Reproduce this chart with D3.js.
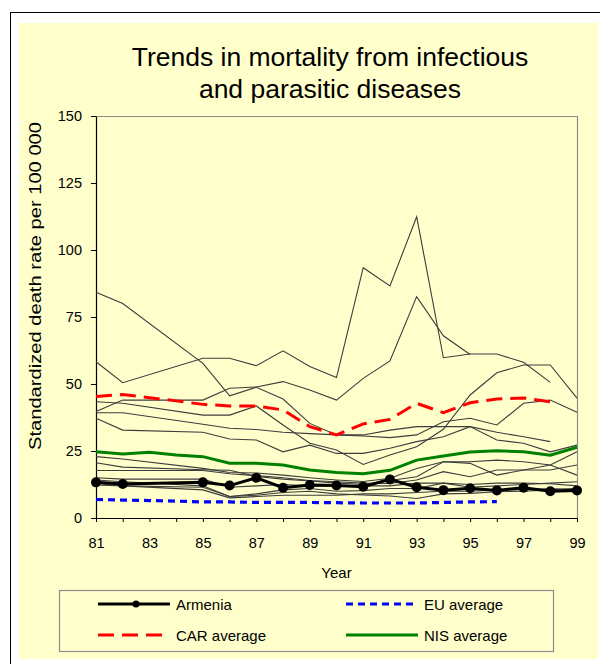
<!DOCTYPE html>
<html>
<head>
<meta charset="utf-8">
<script src="https://cdnjs.cloudflare.com/ajax/libs/d3/7.8.5/d3.min.js"></script>
<style>
  body { margin: 0; background: #fff; }
  svg { display: block; font-family: "Liberation Sans", Arial, sans-serif; }
</style>
</head>
<body>
<div id="chart"></div>
<script>
// --- Data ---
const years = [81, 82, 83, 84, 85, 86, 87, 88, 89, 90, 91, 92, 93, 94, 95, 96, 97, 98, 99];
const yTicks = [0, 25, 50, 75, 100, 125, 150];
const xLabels = [81, 83, 85, 87, 89, 91, 93, 95, 97, 99];

const armenia = [13.3, 12.7, null, null, 13.3, 12.1, 15.0, 11.3, 12.3, 12.1, 11.7, 14.4, 11.5, 10.4, 11.1, 10.3, 11.3, 10.0, 10.3];
const euAverage = [6.9, 6.7, 6.5, 6.3, 6.0, 6.0, 5.8, 5.8, 5.8, 5.7, 5.6, 5.6, 5.6, 5.8, 6.0, 6.1, null, null, null];
const carAverage = [45.3, 46.1, 44.9, 43.7, 42.4, 41.8, 41.8, 40.3, 34.1, 31.0, 35.1, 36.8, 42.8, 39.3, 43.0, 44.4, 44.8, 43.4, null];
const nisAverage = [24.7, 23.9, 24.5, 23.5, 22.9, 20.4, 20.4, 19.8, 17.9, 17.0, 16.5, 17.8, 21.6, 23.1, 24.6, 25.1, 24.7, 23.4, 26.4];

// other countries (thin grey lines)
const countryA = [84.2, 80.0, null, null, 57.7, 45.6, 48.8, 44.4, 35.3, 31.0, 30.6, 30.0, 31.0, 35.9, 37.2, 34.7, 42.8, 44.0, 39.5];
const countryB = [58.3, 50.5, null, null, 59.6, 59.6, 56.8, 62.4, 56.5, 52.4, 93.4, 86.6, 112.4, 59.8, 61.2, 61.2, 58.1, 50.6, null];
const countryC = [39.7, 44.0, null, null, 44.0, 48.4, 48.9, 50.9, 47.8, 44.0, 52.1, 58.6, 82.6, 68.0, 61.0, null, null, null, null];
const countryD = [43.4, 42.8, null, null, 38.4, 38.4, 41.8, 34.7, 27.9, 25.4, 20.0, 23.5, 26.6, 33.1, 45.9, 54.2, 57.1, 57.1, 44.7];
const countryE = [39.3, 39.3, null, null, 35.0, 33.5, 33.0, 32.0, 31.5, 31.0, 31.0, 32.8, 34.1, 34.1, 34.1, 32.0, 30.3, 28.5, null];
const countryF = [37.2, 32.8, null, null, 32.0, 29.5, 29.1, 24.7, 27.2, 24.1, 24.1, 26.0, 28.5, 30.3, 34.1, 29.1, 27.9, 24.7, 27.2];
const countryG = [22.9, 22.0, null, null, 18.5, 17.0, 16.8, 16.0, 15.0, 14.2, 13.6, 14.8, 18.5, 21.0, 21.0, 21.6, 21.0, 19.8, 16.0];
const countryH = [20.6, 19.0, null, null, 18.0, 17.8, 15.5, 14.5, 13.8, 13.0, 12.5, 14.0, 15.4, 21.0, 20.4, 16.0, 17.9, 19.8, 24.7];
const countryI = [17.7, 17.7, null, null, 17.7, 16.5, 15.8, 15.0, 14.0, 13.5, 13.0, 12.9, 14.2, 17.3, 15.4, 17.9, 17.9, 17.9, 19.8];
const countryJ = [15.0, 14.5, null, null, 14.5, 11.5, 12.0, 12.5, 12.0, 12.0, 12.0, 12.0, 13.0, 13.0, 12.5, 13.0, 13.0, 12.8, 12.0];
const countryK = [14.2, 13.5, null, null, 12.0, 8.0, 8.5, 9.5, 10.0, 9.0, 8.6, 8.2, 7.3, 9.0, 9.2, 9.8, 10.0, 10.5, 11.1];
const countryL = [12.9, 12.0, null, null, 11.5, 8.0, 9.0, 10.5, 11.0, 10.0, 10.2, 11.0, 11.0, 13.0, 11.5, 12.0, 12.5, 13.0, 13.5];
const countryM = [12.3, 12.0, null, null, 10.5, 7.5, 8.0, 8.5, 8.5, 8.5, 9.0, 9.0, 9.5, 10.0, 10.0, 10.5, 10.5, 11.0, 10.5];

const otherCountries = [countryA, countryB, countryC, countryD, countryE, countryF, countryG,
                        countryH, countryI, countryJ, countryK, countryL, countryM];

document.addEventListener("DOMContentLoaded", function() {

  const W = 600, H = 664;
  const plot = { left: 96, right: 577, top: 116, bottom: 518 };
  const yellow = "#FFFFCC";

  const svg = d3.select("#chart").append("svg")
      .attr("width", W)
      .attr("height", H);

  // --- Background / frame ---
  svg.append("rect")
      .attr("x", 10.5).attr("y", 12.5)
      .attr("width", 620).attr("height", 680)
      .attr("fill", "#fff").attr("stroke", "#000");
  svg.append("rect")
      .attr("x", 19).attr("y", 23)
      .attr("width", 579).attr("height", 636)
      .attr("fill", yellow);

  // --- Title ---
  const title = svg.append("text")
      .attr("text-anchor", "middle")
      .attr("font-size", 26.5)
      .attr("fill", "#000");
  title.append("tspan").attr("x", 330).attr("y", 66).text("Trends in mortality from infectious");
  title.append("tspan").attr("x", 330).attr("y", 98).text("and parasitic diseases");

  // --- Scales ---
  const x = d3.scaleLinear().domain([81, 99]).range([plot.left, plot.right]);
  const y = d3.scaleLinear().domain([0, 150]).range([plot.bottom, plot.top]);

  // plot area border (grey top/right)
  svg.append("path")
      .attr("d", `M${plot.left},${plot.top + 0.5}H${plot.right + 0.5}V${plot.bottom}`)
      .attr("fill", "none")
      .attr("stroke", "#8c8c8c")
      .attr("stroke-width", 1.2);

  // --- Axes ---
  const yAxis = d3.axisLeft(y)
      .tickValues(yTicks)
      .tickSize(5)
      .tickSizeOuter(0)
      .tickPadding(9);
  const gy = svg.append("g")
      .attr("transform", `translate(${plot.left},0)`)
      .call(yAxis);

  const xAxis = d3.axisBottom(x)
      .tickValues(years)
      .tickSize(4)
      .tickSizeOuter(0)
      .tickPadding(16)
      .tickFormat(d => xLabels.includes(d) ? d : "");
  const gx = svg.append("g")
      .attr("transform", `translate(0,${plot.bottom})`)
      .call(xAxis);

  [gx, gy].forEach(g => {
    g.select(".domain").attr("stroke", "#000").attr("stroke-width", 1.2);
    g.selectAll(".tick line").attr("stroke", "#000");
    g.selectAll(".tick text")
        .attr("fill", "#000")
        .attr("font-size", 14.5)
        .attr("font-family", '"Liberation Sans", Arial, sans-serif');
  });

  // axis titles
  svg.append("text")
      .attr("x", plot.left + (plot.right - plot.left) / 2)
      .attr("y", 578)
      .attr("text-anchor", "middle")
      .attr("font-size", 15)
      .text("Year");

  svg.append("text")
      .attr("transform", "translate(41,286) rotate(-90)")
      .attr("text-anchor", "middle")
      .attr("font-size", 16)
      .attr("textLength", 328)
      .attr("lengthAdjust", "spacingAndGlyphs")
      .text("Standardized death rate per 100 000");

  // --- Lines ---
  const toPoints = arr => years.map((yr, i) => [yr, arr[i]]).filter(p => p[1] != null);
  const line = d3.line()
      .x(d => x(d[0]))
      .y(d => y(d[1]));

  const lines = svg.append("g");

  lines.selectAll("path.country")
      .data(otherCountries)
      .join("path")
      .attr("class", "country")
      .attr("d", d => line(toPoints(d)))
      .attr("fill", "none")
      .attr("stroke", "#3c3c3c")
      .attr("stroke-width", 1.1);

  const styles = {
    nis: { color: "#008000", dash: null, width: 3 },
    car: { color: "#FF0000", dash: "16,8", width: 3 },
    eu: { color: "#0000FF", dash: "7,5", width: 3.2 },
    arm: { color: "#000000", dash: null, width: 3 }
  };

  const mainSeries = [
    { key: "nis", values: nisAverage },
    { key: "car", values: carAverage },
    { key: "eu", values: euAverage },
    { key: "arm", values: armenia }
  ];

  mainSeries.forEach(s => {
    const st = styles[s.key];
    lines.append("path")
        .attr("d", line(toPoints(s.values)))
        .attr("fill", "none")
        .attr("stroke", st.color)
        .attr("stroke-width", st.width)
        .attr("stroke-dasharray", st.dash);
  });

  lines.selectAll("circle.arm")
      .data(toPoints(armenia))
      .join("circle")
      .attr("class", "arm")
      .attr("cx", d => x(d[0]))
      .attr("cy", d => y(d[1]))
      .attr("r", 5)
      .attr("fill", "#000");

  // --- Legend ---
  const legend = svg.append("g");
  legend.append("rect")
      .attr("x", 59.5).attr("y", 590.5)
      .attr("width", 494).attr("height", 61)
      .attr("fill", yellow)
      .attr("stroke", "#8c8c8c")
      .attr("stroke-width", 1.2);

  const legendItems = [
    { key: "arm", label: "Armenia", x: 98, y: 604, marker: true },
    { key: "eu", label: "EU average", x: 346, y: 604 },
    { key: "car", label: "CAR average", x: 98, y: 635 },
    { key: "nis", label: "NIS average", x: 346, y: 635 }
  ];

  legendItems.forEach(it => {
    const st = styles[it.key];
    legend.append("line")
        .attr("x1", it.x).attr("x2", it.x + 72)
        .attr("y1", it.y).attr("y2", it.y)
        .attr("stroke", st.color)
        .attr("stroke-width", st.width)
        .attr("stroke-dasharray", st.dash);
    if (it.marker) {
      legend.append("circle")
          .attr("cx", it.x + 38).attr("cy", it.y)
          .attr("r", 3.5)
          .attr("fill", "#000");
    }
    legend.append("text")
        .attr("x", it.x + 78)
        .attr("y", it.y + 6)
        .attr("font-size", 15)
        .text(it.label);
  });

}); // End DOMContentLoaded listener
</script>
</body>
</html>
